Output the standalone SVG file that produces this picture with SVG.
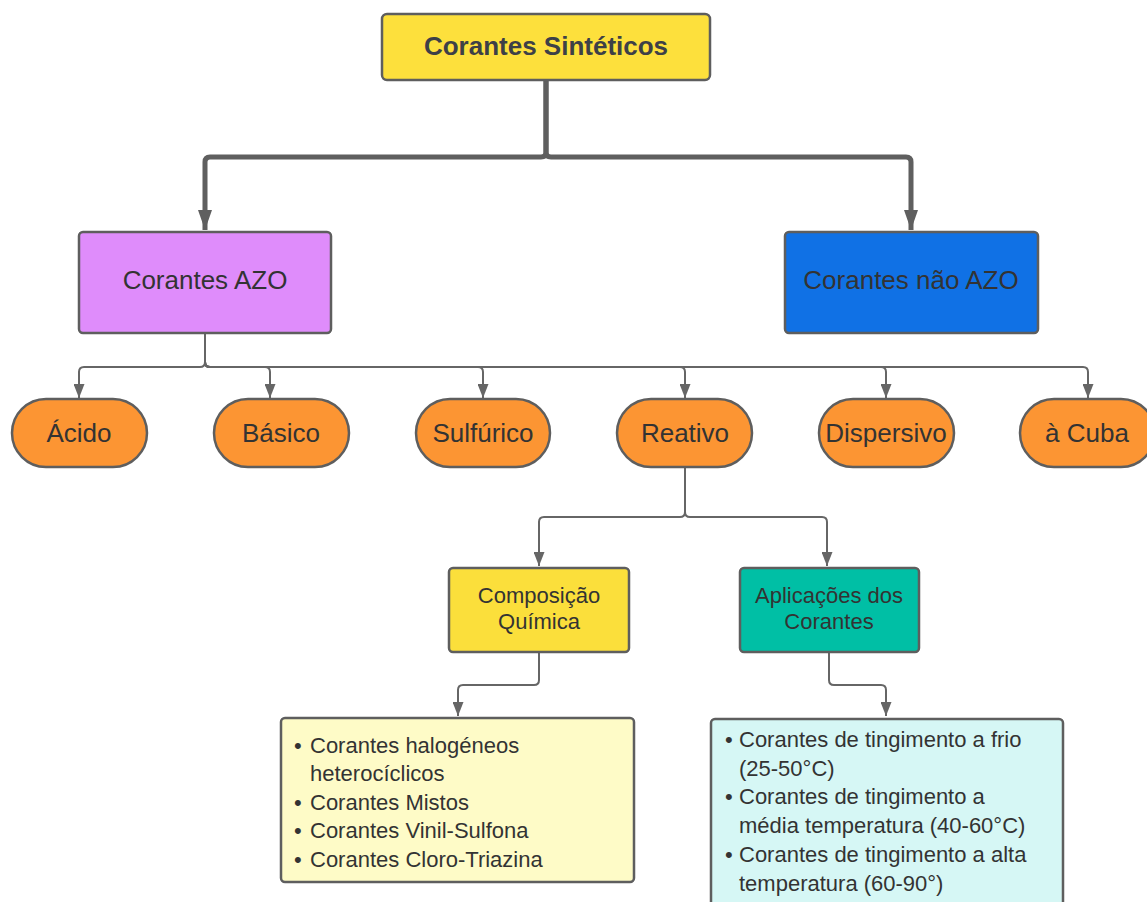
<svg xmlns="http://www.w3.org/2000/svg" width="1147" height="902" viewBox="0 0 1147 902">
<style>
text{font-family:"Liberation Sans",Arial,sans-serif;fill:#333;}
.box{stroke:#5e5e5e;stroke-width:2.5;}
.big{font-size:26px;text-anchor:middle;}
.mid{font-size:22px;text-anchor:middle;}
.li{font-size:22px;}
.thick{fill:none;stroke:#5f5f5f;stroke-width:5;}
.thin{fill:none;stroke:#666;stroke-width:2;}
</style>
<defs>
<marker id="ah" markerUnits="userSpaceOnUse" markerWidth="20" markerHeight="14" refX="20" refY="7" orient="auto"><path d="M0,0 L20,7 L0,14 z" fill="#5f5f5f"/></marker>
<marker id="as" markerUnits="userSpaceOnUse" markerWidth="14" markerHeight="11" refX="14" refY="5.5" orient="auto"><path d="M0,0 L14,5.5 L0,11 z" fill="#666"/></marker>
</defs>
<rect width="1147" height="902" fill="#fff"/>
<g id="connectors">
<path class="thick" d="M546,81 V152 Q546,157 541,157 H210 Q205,157 205,162 V230" marker-end="url(#ah)"/>
<path class="thick" d="M546,81 V152 Q546,157 551,157 H906 Q911,157 911,162 V230" marker-end="url(#ah)"/>
<path class="thin" d="M205,333 V362 Q205,367 200,367 H84 Q79,367 79,372 V398" marker-end="url(#as)"/>
<path class="thin" d="M205,333 V362 Q205,367 210,367 H265 Q270,367 270,372 V398" marker-end="url(#as)"/>
<path class="thin" d="M205,333 V362 Q205,367 210,367 H478 Q483,367 483,372 V398" marker-end="url(#as)"/>
<path class="thin" d="M205,333 V362 Q205,367 210,367 H680 Q685,367 685,372 V398" marker-end="url(#as)"/>
<path class="thin" d="M205,333 V362 Q205,367 210,367 H881 Q886,367 886,372 V398" marker-end="url(#as)"/>
<path class="thin" d="M205,333 V362 Q205,367 210,367 H1083 Q1088,367 1088,372 V398" marker-end="url(#as)"/>
<path class="thin" d="M685,467 V512 Q685,517 680,517 H544 Q539,517 539,522 V566" marker-end="url(#as)"/>
<path class="thin" d="M685,467 V512 Q685,517 690,517 H822 Q827,517 827,522 V566" marker-end="url(#as)"/>
<path class="thin" d="M539,652 V680 Q539,685 534,685 H463 Q458,685 458,690 V716" marker-end="url(#as)"/>
<path class="thin" d="M829,652 V680 Q829,685 834,685 H881 Q886,685 886,690 V716" marker-end="url(#as)"/>
</g>
<g id="n-sinteticos">
<rect class="box" x="382" y="14" width="328" height="66" rx="5" fill="#FDE03C"/>
<text class="big" x="546" y="55" font-weight="bold" style="fill:#3d4047">Corantes Sintéticos</text>
</g>
<g id="n-azo">
<rect class="box" x="79" y="232" width="252" height="101" rx="4" fill="#DF8CFB"/>
<text class="big" x="205" y="289">Corantes AZO</text>
</g>
<g id="n-naoazo">
<rect class="box" x="785" y="232" width="253" height="101" rx="4" fill="#1071E5"/>
<text class="big" x="911" y="289">Corantes não AZO</text>
</g>
<g id="n-acido">
<rect class="box" x="12" y="399" width="135" height="68" rx="34" fill="#FC9533"/>
<text class="big" x="79" y="442">Ácido</text>
</g>
<g id="n-basico">
<rect class="box" x="214" y="399" width="135" height="68" rx="34" fill="#FC9533"/>
<text class="big" x="281" y="442">Básico</text>
</g>
<g id="n-sulfurico">
<rect class="box" x="416" y="399" width="134" height="68" rx="34" fill="#FC9533"/>
<text class="big" x="483" y="442">Sulfúrico</text>
</g>
<g id="n-reativo">
<rect class="box" x="617" y="399" width="135" height="68" rx="34" fill="#FC9533"/>
<text class="big" x="685" y="442">Reativo</text>
</g>
<g id="n-dispersivo">
<rect class="box" x="819" y="399" width="135" height="68" rx="34" fill="#FC9533"/>
<text class="big" x="886" y="442">Dispersivo</text>
</g>
<g id="n-cuba">
<rect class="box" x="1020" y="399" width="135" height="68" rx="34" fill="#FC9533"/>
<text class="big" x="1087" y="442">à Cuba</text>
</g>
<g id="n-composicao">
<rect class="box" x="449" y="568" width="180" height="84" rx="4" fill="#FBDF3B"/>
<text class="mid" x="539" y="603">Composição</text>
<text class="mid" x="539" y="629">Química</text>
</g>
<g id="n-aplicacoes">
<rect class="box" x="740" y="568" width="179" height="84" rx="4" fill="#00BFA5"/>
<text class="mid" x="829" y="603">Aplicações dos</text>
<text class="mid" x="829" y="629">Corantes</text>
</g>
<g id="n-lista-composicao">
<rect class="box" x="281" y="718" width="353" height="164" rx="4" fill="#FEFBC7"/>
<text class="li" x="294" y="753">•</text><text class="li" x="310" y="753">Corantes halogéneos</text>
<text class="li" x="310" y="781">heterocíclicos</text>
<text class="li" x="294" y="810">•</text><text class="li" x="310" y="810">Corantes Mistos</text>
<text class="li" x="294" y="838">•</text><text class="li" x="310" y="838">Corantes Vinil-Sulfona</text>
<text class="li" x="294" y="867">•</text><text class="li" x="310" y="867">Corantes Cloro-Triazina</text>
</g>
<g id="n-lista-aplicacoes">
<rect class="box" x="711" y="719" width="352" height="200" rx="4" fill="#D6F7F5"/>
<text class="li" x="725" y="747">•</text><text class="li" x="739" y="747">Corantes de tingimento a frio</text>
<text class="li" x="739" y="776">(25-50°C)</text>
<text class="li" x="725" y="804">•</text><text class="li" x="739" y="804">Corantes de tingimento a</text>
<text class="li" x="739" y="833">média temperatura (40-60°C)</text>
<text class="li" x="725" y="862">•</text><text class="li" x="739" y="862">Corantes de tingimento a alta</text>
<text class="li" x="739" y="891">temperatura (60-90°)</text>
</g>
</svg>
